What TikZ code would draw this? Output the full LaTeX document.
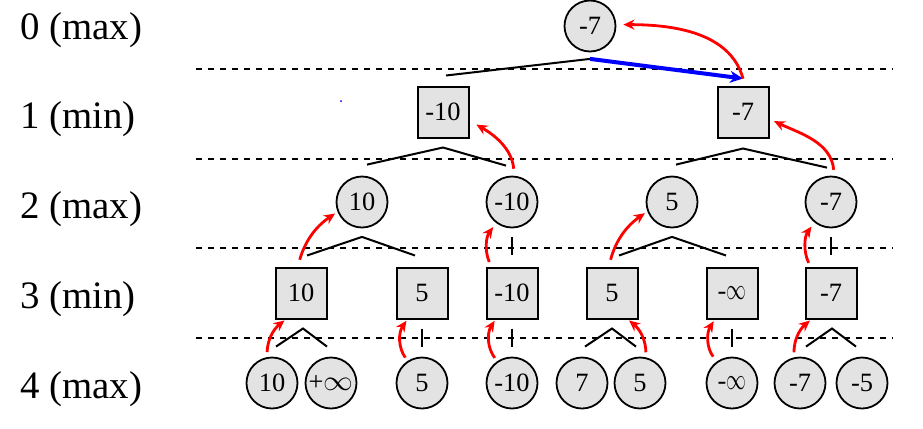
\documentclass[tikz,border=0pt]{standalone}
\usepackage{fontspec}
\setmainfont{Liberation Serif}
\usepackage{graphicx}
\usetikzlibrary{arrows.meta,calc}
\definecolor{nodegray}{RGB}{227,227,227}

\begin{document}
\begin{tikzpicture}[x=1bp,y=-1bp,
    every node/.style={font=\rmfamily\fontsize{26.5}{26.5}\selectfont, inner sep=0pt},
    maxnode/.style={draw, circle, fill=nodegray, line width=1.8bp, minimum size=51bp},
    minnode/.style={draw, rectangle, fill=nodegray, line width=2bp, minimum size=51bp},
    branch/.style={line width=2bp},
    backup/.style={red, line width=2.8bp, -{Stealth[length=11bp,width=10bp]}},
    choice/.style={blue, line width=4bp, -{Stealth[length=13bp,width=12bp]}},
    levelsep/.style={dash pattern=on 6bp off 6bp, line width=1.3bp}]

    \useasboundingbox (0,0) rectangle (923,428);

    \foreach \y in {69,159,248,338}
      \draw[levelsep] (196,\y) -- (893,\y);

    \foreach \y/\txt [count=\i from 0] in {39/max,128/min,218/max,308/min,398/max}
      \node[anchor=base west, font=\rmfamily\fontsize{39}{39}\selectfont] (lev\i) at (20,\y) {\i\ (\txt)};

    \node[maxnode] (root) at (590,26) {-7};
    \node[minnode] (m1) at (443,112) {-10};
    \node[minnode] (m2) at (743,112) {-7};
    \node[maxnode] (x1) at (362,202) {10};
    \node[maxnode] (x2) at (512,202) {-10};
    \node[maxnode] (x3) at (672,202) {5};
    \node[maxnode] (x4) at (831,202) {-7};
    \node[minnode] (n1) at (301,293) {10};
    \node[minnode] (n2) at (422,293) {5};
    \node[minnode] (n3) at (512,293) {-10};
    \node[minnode] (n4) at (612,293) {5};
    \node[minnode] (n5) at (732,293) {-\scalebox{0.8}[1.2]{$\infty$}};
    \node[minnode] (n6) at (831,293) {-7};
    \foreach \x/\v [count=\i] in {272/10, 331/{+\scalebox{1.2}[1.15]{$\infty$}}, 422/5, 512/-10,
                                  582/7, 640/5, 732/{-\scalebox{0.8}[1.2]{$\infty$}}, 800/-7, 862/-5}
      \node[maxnode] (l\i) at (\x,383) {\v};

    \fill[blue] (341,101) circle (1bp);

    \draw[branch] ($(m1.north)+(3,-10)$) -- ($(root.south)+(0,6.5)$) coordinate (r0);
    \draw[choice] (r0) -- ($(m2.north)+(0,-7)$);

    \draw[branch] ($(x1.north)+(5,-11)$) -- ($(m1.south)+(0,9)$) -- ($(x2.north)+(-6,-10)$);
    \draw[branch] ($(x3.north)+(4,-11)$) -- ($(m2.south)+(0,10)$) -- ($(x4.north)+(-4,-8)$);

    \draw[branch] ($(n1.north)+(6,-11)$) -- ($(x1.south)+(0,8.5)$) -- ($(n2.north)+(-7,-11)$);
    \draw[branch] ($(x2.south)+(0,8.5)$) -- ($(n3.north)+(0,-12)$);
    \draw[branch] ($(n4.north)+(7,-11)$) -- ($(x3.south)+(0,8.5)$) -- ($(n5.north)+(-6,-11)$);
    \draw[branch] ($(x4.south)+(0,8.5)$) -- ($(n6.north)+(0,-12)$);

    \draw[branch] ($(l1.north)+(4,-10)$) -- ($(n1.south)+(2,9)$) -- ($(l2.north)+(-4,-10)$);
    \draw[branch] ($(n2.south)+(0,9)$) -- ($(l3.north)+(0,-10)$);
    \draw[branch] ($(n3.south)+(0,9)$) -- ($(l4.north)+(0,-10)$);
    \draw[branch] ($(l5.north)+(3,-10)$) -- ($(n4.south)+(0,9)$) -- ($(l6.north)+(-4,-10)$);
    \draw[branch] ($(n5.south)+(0,9)$) -- ($(l7.north)+(0,-10)$);
    \draw[branch] ($(l8.north)+(6,-10)$) -- ($(n6.south)+(1,9)$) -- ($(l9.north)+(-6,-10)$);

    \draw[backup,shorten <=5bp,shorten >=1.5bp] (l1.101) to[bend left=25] (n1.-120);
    \draw[backup,shorten <=4bp,shorten >=1.5bp] (l3.123) to[bend left=35] (n2.-119);
    \draw[backup,shorten <=4bp,shorten >=1.5bp] (l4.124) to[bend left=35] (n3.-122);
    \draw[backup,shorten <=5bp,shorten >=1.5bp] (l6.77) to[bend right=25] (n4.-59);
    \draw[backup,shorten <=6bp,shorten >=2bp] (l7.125) to[bend left=35] (n5.-123);
    \draw[backup,shorten <=5bp,shorten >=1.5bp] (l8.103) to[bend left=25] (n6.-127);

    \draw[backup,shorten <=7bp,shorten >=3bp] (n1.97) to[bend left=20] (x1.-158);
    \draw[backup,shorten <=5bp,shorten >=5bp] (n3.128) to[bend left=30] (x2.-127);
    \draw[backup,shorten <=7bp,shorten >=3bp] (n4.97) to[bend left=20] (x3.-159);
    \draw[backup,shorten <=4bp,shorten >=5bp] (n6.128) to[bend left=30] (x4.-129);

    \draw[backup,shorten <=7bp,shorten >=8bp] (x2.85) to[out=95,in=-30] (m1.-18);
    \draw[backup,shorten <=6bp,shorten >=5bp] (x4.83) to[out=95,in=-25] (m2.-15);

    \draw[backup,shorten <=7bp,shorten >=7bp] (m2.86) to[out=105,in=0] (root.3);
\end{tikzpicture}
\end{document}
